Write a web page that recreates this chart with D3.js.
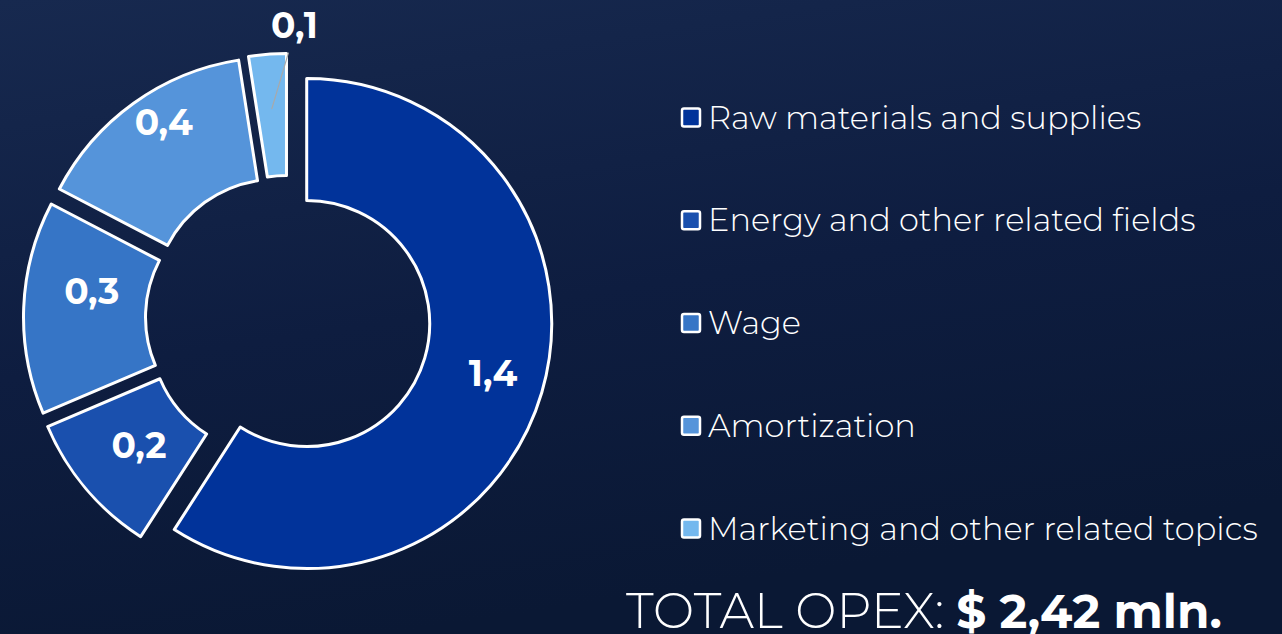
<!DOCTYPE html>
<html>
<head>
<meta charset="utf-8">
<script src="https://cdn.jsdelivr.net/npm/d3@7"></script>
<style>
  html, body { margin: 0; padding: 0; background: #0c1b3c; overflow: hidden; }
  svg { display: block; }
</style>
</head>
<body>
<svg width="1282" height="634"></svg>
<script>
// OPEX breakdown, $ mln
const categories = [
  "Raw materials and supplies",
  "Energy and other related fields",
  "Wage",
  "Amortization",
  "Marketing and other related topics"
];
const values = [1.43, 0.23, 0.34, 0.36, 0.06];
const colors = ["#01339a", "#1a50ae", "#3675c6", "#5594da", "#74b8ee"];
const totalLabel = "TOTAL OPEX:";
const totalValue = "$ 2,42 mln.";

const width = 1282;
const height = 634;
const svg = d3.select("svg");
const font = "Montserrat, 'Open Sans', 'Noto Sans', sans-serif";

// background
const defs = svg.append("defs");
const bg = defs.append("linearGradient")
  .attr("id", "bg")
  .attr("x1", 0).attr("y1", 0).attr("x2", 0.3).attr("y2", 1);
bg.append("stop").attr("offset", "0%").attr("stop-color", "#17294f");
bg.append("stop").attr("offset", "55%").attr("stop-color", "#0e1d40");
bg.append("stop").attr("offset", "100%").attr("stop-color", "#0a1834");
svg.append("rect").attr("width", width).attr("height", height).attr("fill", "url(#bg)");

const fmt = (v) => d3.format(".1f")(v).replace(".", ",");

// donut
const cx = 288, cy = 318;
const outerR = 245, innerR = 123, explode = 19.5;
// small hand nudges so labels sit where the original put them
const labelNudge = [[4, -4], [11, -8], [13, -18], [-2, -25], [0, 0]];

const pie = d3.pie().sort(null).value((d) => d);
const arc = d3.arc().innerRadius(innerR).outerRadius(outerR);
const labelArc = d3.arc().innerRadius(190).outerRadius(190);
const arcs = pie(values);

const shift = (d) => {
  const a = (d.startAngle + d.endAngle) / 2;
  return [Math.sin(a) * explode, -Math.cos(a) * explode];
};

const donut = svg.append("g").attr("transform", `translate(${cx},${cy})`);

const slices = donut.selectAll(".slice")
  .data(arcs)
  .enter()
  .append("g")
  .attr("class", "slice")
  .attr("transform", (d) => `translate(${shift(d)})`);

slices.append("path")
  .attr("d", arc)
  .attr("fill", (d, i) => colors[i])
  .attr("stroke", "#ffffff")
  .attr("stroke-width", 3)
  .attr("stroke-linejoin", "round");

const small = (d) => d.endAngle - d.startAngle < 0.2;

// labels inside the big enough slices
slices.filter((d) => !small(d))
  .append("text")
  .attr("transform", (d) => {
    const [x, y] = labelArc.centroid(d);
    const [nx, ny] = labelNudge[d.index];
    return `translate(${x + nx},${y + ny})`;
  })
  .attr("text-anchor", "middle")
  .attr("dy", "0.35em")
  .attr("fill", "#ffffff")
  .attr("font-family", font)
  .attr("font-weight", 700)
  .attr("font-size", 36)
  .text((d) => fmt(d.data));

// small slice: label outside with leader line
const outside = slices.filter((d) => small(d));
outside.append("line")
  .attr("x1", (d) => labelArc.centroid(d)[0])
  .attr("y1", (d) => labelArc.centroid(d)[1])
  .attr("x2", (d) => Math.sin(d.endAngle) * (outerR + 1) + 2)
  .attr("y2", (d) => -Math.cos(d.endAngle) * (outerR + 1))
  .attr("stroke", "#a9a9a9")
  .attr("stroke-width", 1.2);
outside.append("text")
  .attr("x", (d) => Math.sin(d.endAngle) * outerR + 8)
  .attr("y", -outerR - 28)
  .attr("text-anchor", "middle")
  .attr("dy", "0.35em")
  .attr("fill", "#ffffff")
  .attr("font-family", font)
  .attr("font-weight", 700)
  .attr("font-size", 36)
  .text((d) => fmt(d.data));

// legend
const y = d3.scaleBand().domain(categories).range([66, 580]);
const legend = svg.append("g").attr("class", "legend");
const item = legend.selectAll(".item")
  .data(categories)
  .enter()
  .append("g")
  .attr("class", "item")
  .attr("transform", (d) => `translate(681,${y(d) + y.bandwidth() / 2})`);

item.append("rect")
  .attr("x", 1).attr("y", -9)
  .attr("width", 18).attr("height", 18)
  .attr("rx", 2)
  .attr("fill", (d, i) => colors[i])
  .attr("stroke", "#ffffff")
  .attr("stroke-width", 2.5);

item.append("text")
  .attr("x", 27)
  .attr("dy", "0.35em")
  .attr("fill", "#ffffff")
  .attr("font-family", font)
  .attr("font-weight", 260)
  .attr("font-size", 32)
  .text((d) => d);

// total
const total = svg.append("text")
  .attr("x", 626)
  .attr("y", 628)
  .attr("fill", "#ffffff")
  .attr("font-family", font);
total.append("tspan").attr("font-weight", 260).attr("font-size", 49).text(totalLabel);
total.append("tspan").attr("font-weight", 700).attr("font-size", 47).attr("dx", 12).text(totalValue);
</script>
</body>
</html>
